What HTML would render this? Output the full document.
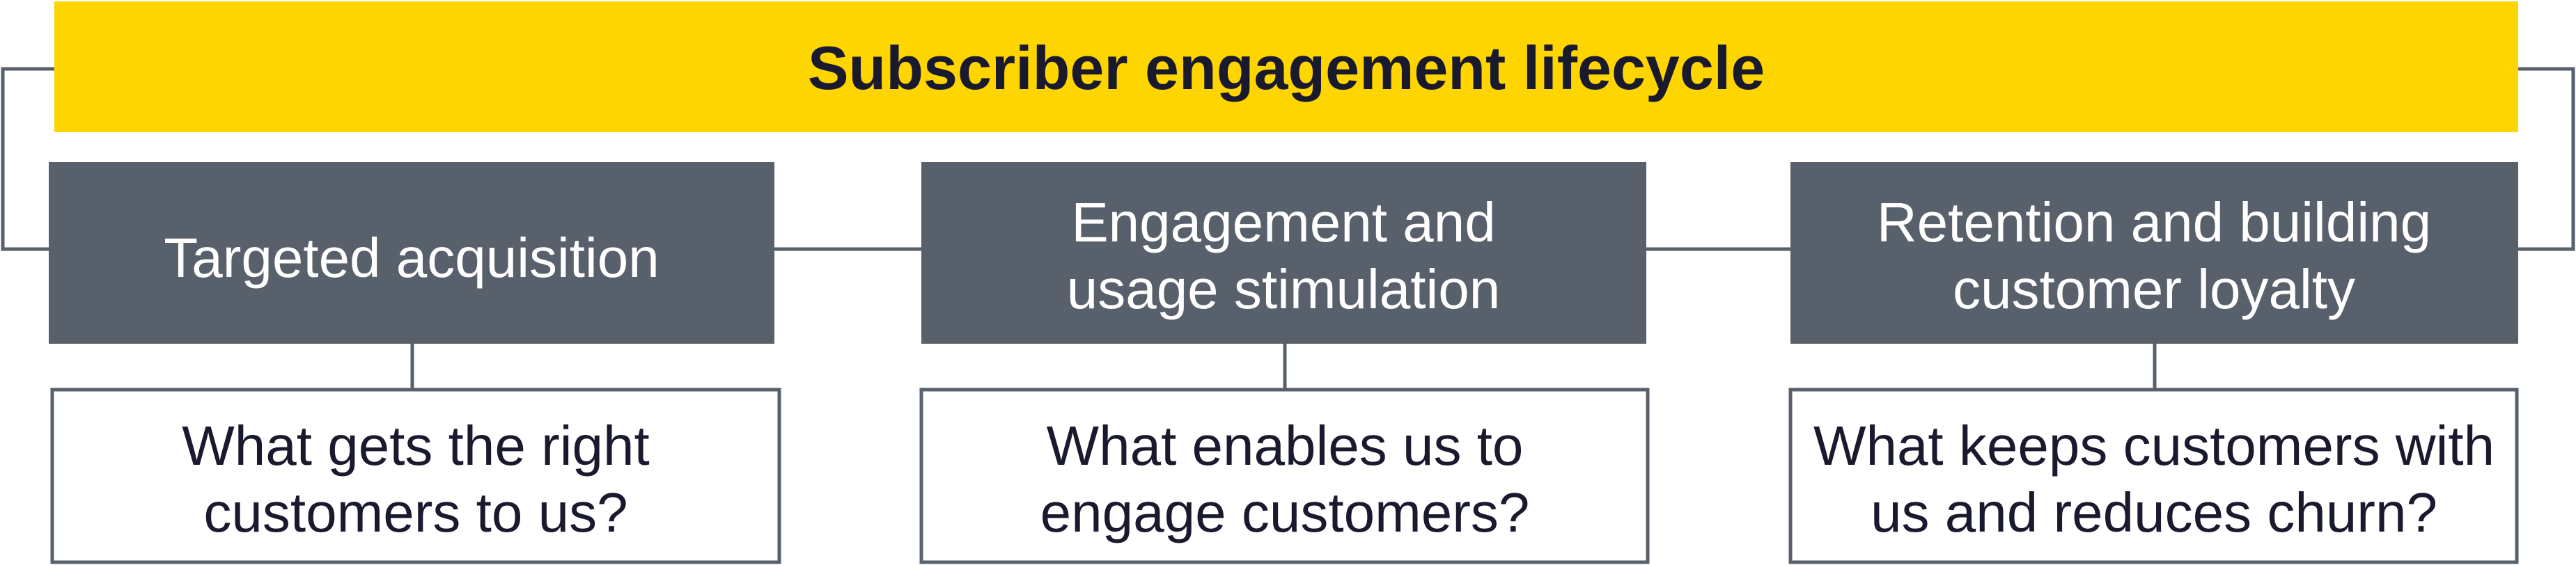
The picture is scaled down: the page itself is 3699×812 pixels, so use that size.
<!DOCTYPE html>
<html><head><meta charset="utf-8"><style>
html,body{margin:0;padding:0;background:#fff;}
svg{display:block;}
text{font-family:"Liberation Sans",sans-serif;}
</style></head><body>
<svg width="3699" height="812" viewBox="0 0 3699 812" xmlns="http://www.w3.org/2000/svg">
<g stroke="#58616B" stroke-width="5" fill="none">
<polyline points="78,99 4,99 4,358 70,358"/>
<polyline points="3616,99 3695,99 3695,358 3616,358"/>
<line x1="1111" y1="358" x2="1323" y2="358"/>
<line x1="2364" y1="358" x2="2571" y2="358"/>
<line x1="592" y1="493" x2="592" y2="560"/>
<line x1="1845" y1="493" x2="1845" y2="560"/>
<line x1="3094" y1="493" x2="3094" y2="560"/>
</g>
<rect x="78" y="2" width="3538" height="188" fill="#FFD500"/>
<text x="1847" y="128" font-size="88" font-weight="bold" fill="#1A1A2E" text-anchor="middle">Subscriber engagement lifecycle</text>
<rect x="70" y="233" width="1042" height="261" fill="#58616B"/>
<rect x="1323" y="233" width="1041" height="261" fill="#58616B"/>
<rect x="2571" y="233" width="1045" height="261" fill="#58616B"/>
<g fill="#fff" font-size="80" text-anchor="middle">
<text x="591" y="398">Targeted acquisition</text>
<text x="1843" y="347">Engagement and</text>
<text x="1843" y="443">usage stimulation</text>
<text x="3093" y="347">Retention and building</text>
<text x="3093" y="443">customer loyalty</text>
</g>
<g fill="#fff" stroke="#58616B" stroke-width="5">
<rect x="75" y="560" width="1044" height="248"/>
<rect x="1323" y="560" width="1043" height="248"/>
<rect x="2571" y="560" width="1043" height="248"/>
</g>
<g fill="#1A1A2E" font-size="80" text-anchor="middle">
<text x="597" y="668">What gets the right</text>
<text x="597" y="764">customers to us?</text>
<text x="1845" y="668">What enables us to</text>
<text x="1845" y="764">engage customers?</text>
<text x="3093" y="668">What keeps customers with</text>
<text x="3093" y="764">us and reduces churn?</text>
</g>
</svg>
</body></html>
